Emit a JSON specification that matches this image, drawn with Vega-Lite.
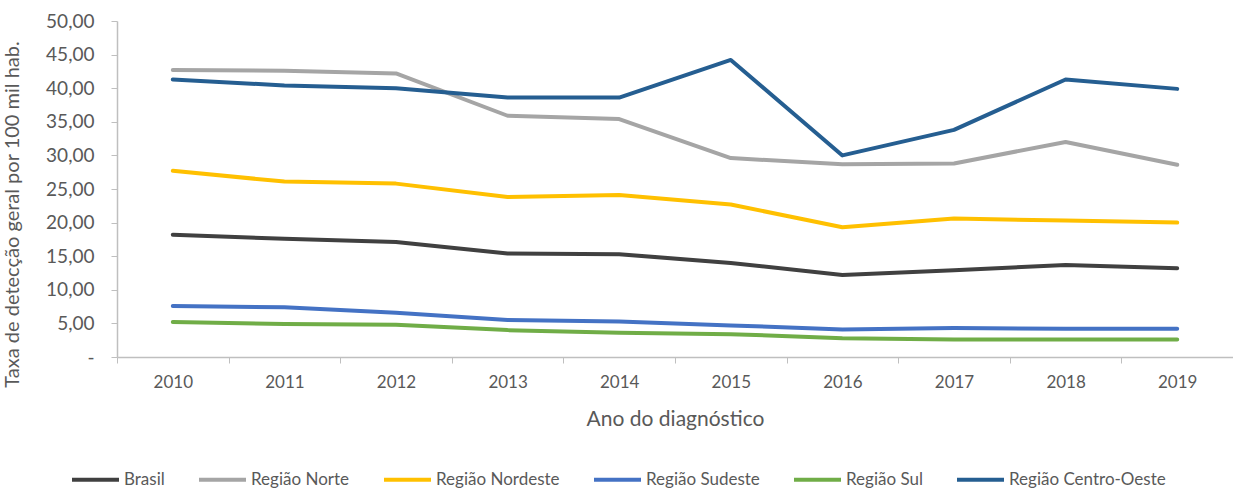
{
  "$schema": "https://vega.github.io/schema/vega-lite/v6.json",
  "width": 1116,
  "height": 336,
  "autosize": "none",
  "padding": {"left": 117, "top": 21, "right": 0, "bottom": 131},
  "background": "white",
  "config": {
    "view": {"stroke": null},
    "font": "Lato",
    "axis": {"labelColor": "#595959", "titleColor": "#595959", "domainColor": "#BFBFBF", "tickColor": "#BFBFBF", "labelFont": "Lato", "titleFont": "Lato", "titleFontWeight": "normal"}
  },
  "data": {
    "values": [
      {"ano": "2010", "serie": "Brasil", "taxa": 18.2},
      {"ano": "2011", "serie": "Brasil", "taxa": 17.6},
      {"ano": "2012", "serie": "Brasil", "taxa": 17.1},
      {"ano": "2013", "serie": "Brasil", "taxa": 15.4},
      {"ano": "2014", "serie": "Brasil", "taxa": 15.3},
      {"ano": "2015", "serie": "Brasil", "taxa": 14.0},
      {"ano": "2016", "serie": "Brasil", "taxa": 12.2},
      {"ano": "2017", "serie": "Brasil", "taxa": 12.9},
      {"ano": "2018", "serie": "Brasil", "taxa": 13.7},
      {"ano": "2019", "serie": "Brasil", "taxa": 13.2},
      {"ano": "2010", "serie": "Região Norte", "taxa": 42.7},
      {"ano": "2011", "serie": "Região Norte", "taxa": 42.6},
      {"ano": "2012", "serie": "Região Norte", "taxa": 42.2},
      {"ano": "2013", "serie": "Região Norte", "taxa": 35.9},
      {"ano": "2014", "serie": "Região Norte", "taxa": 35.4},
      {"ano": "2015", "serie": "Região Norte", "taxa": 29.6},
      {"ano": "2016", "serie": "Região Norte", "taxa": 28.7},
      {"ano": "2017", "serie": "Região Norte", "taxa": 28.8},
      {"ano": "2018", "serie": "Região Norte", "taxa": 32.0},
      {"ano": "2019", "serie": "Região Norte", "taxa": 28.6},
      {"ano": "2010", "serie": "Região Nordeste", "taxa": 27.7},
      {"ano": "2011", "serie": "Região Nordeste", "taxa": 26.1},
      {"ano": "2012", "serie": "Região Nordeste", "taxa": 25.8},
      {"ano": "2013", "serie": "Região Nordeste", "taxa": 23.8},
      {"ano": "2014", "serie": "Região Nordeste", "taxa": 24.1},
      {"ano": "2015", "serie": "Região Nordeste", "taxa": 22.7},
      {"ano": "2016", "serie": "Região Nordeste", "taxa": 19.3},
      {"ano": "2017", "serie": "Região Nordeste", "taxa": 20.6},
      {"ano": "2018", "serie": "Região Nordeste", "taxa": 20.3},
      {"ano": "2019", "serie": "Região Nordeste", "taxa": 20.0},
      {"ano": "2010", "serie": "Região Sudeste", "taxa": 7.6},
      {"ano": "2011", "serie": "Região Sudeste", "taxa": 7.4},
      {"ano": "2012", "serie": "Região Sudeste", "taxa": 6.6},
      {"ano": "2013", "serie": "Região Sudeste", "taxa": 5.5},
      {"ano": "2014", "serie": "Região Sudeste", "taxa": 5.3},
      {"ano": "2015", "serie": "Região Sudeste", "taxa": 4.7},
      {"ano": "2016", "serie": "Região Sudeste", "taxa": 4.1},
      {"ano": "2017", "serie": "Região Sudeste", "taxa": 4.3},
      {"ano": "2018", "serie": "Região Sudeste", "taxa": 4.2},
      {"ano": "2019", "serie": "Região Sudeste", "taxa": 4.2},
      {"ano": "2010", "serie": "Região Sul", "taxa": 5.2},
      {"ano": "2011", "serie": "Região Sul", "taxa": 4.9},
      {"ano": "2012", "serie": "Região Sul", "taxa": 4.8},
      {"ano": "2013", "serie": "Região Sul", "taxa": 4.0},
      {"ano": "2014", "serie": "Região Sul", "taxa": 3.6},
      {"ano": "2015", "serie": "Região Sul", "taxa": 3.4},
      {"ano": "2016", "serie": "Região Sul", "taxa": 2.8},
      {"ano": "2017", "serie": "Região Sul", "taxa": 2.6},
      {"ano": "2018", "serie": "Região Sul", "taxa": 2.6},
      {"ano": "2019", "serie": "Região Sul", "taxa": 2.6},
      {"ano": "2010", "serie": "Região Centro-Oeste", "taxa": 41.3},
      {"ano": "2011", "serie": "Região Centro-Oeste", "taxa": 40.4},
      {"ano": "2012", "serie": "Região Centro-Oeste", "taxa": 40.0},
      {"ano": "2013", "serie": "Região Centro-Oeste", "taxa": 38.6},
      {"ano": "2014", "serie": "Região Centro-Oeste", "taxa": 38.6},
      {"ano": "2015", "serie": "Região Centro-Oeste", "taxa": 44.2},
      {"ano": "2016", "serie": "Região Centro-Oeste", "taxa": 30.0},
      {"ano": "2017", "serie": "Região Centro-Oeste", "taxa": 33.8},
      {"ano": "2018", "serie": "Região Centro-Oeste", "taxa": 41.3},
      {"ano": "2019", "serie": "Região Centro-Oeste", "taxa": 39.9}
    ]
  },
  "mark": {"type": "line", "strokeWidth": 4, "strokeCap": "round", "strokeJoin": "round"},
  "encoding": {
    "x": {
      "field": "ano", "type": "ordinal", "bandPosition": 0.5,
      "scale": {"type": "band", "paddingInner": 0, "paddingOuter": 0},
      "axis": {"title": "Ano do diagnóstico", "labelAngle": 0, "labelFontSize": 17, "titleFontSize": 21, "tickBand": "extent", "tickSize": 6, "labelPadding": 11, "titlePadding": 18, "domainWidth": 1.5}
    },
    "y": {
      "field": "taxa", "type": "quantitative",
      "scale": {"domain": [0, 50], "nice": false},
      "axis": {"title": "Taxa de detecção geral por 100 mil hab.", "values": [0, 5, 10, 15, 20, 25, 30, 35, 40, 45, 50], "grid": false, "labelFontSize": 19, "titleFontSize": 20, "tickSize": 6, "labelPadding": 17, "domainWidth": 1.5,
        "labelExpr": "datum.value == 0 ? '-' : replace(format(datum.value, '.2f'), '.', ',')",
        "titleX": -95, "titleY": 193}
    },
    "color": {
      "field": "serie", "type": "nominal",
      "sort": ["Brasil", "Região Norte", "Região Nordeste", "Região Sudeste", "Região Sul", "Região Centro-Oeste"],
      "scale": {"domain": ["Brasil", "Região Norte", "Região Nordeste", "Região Sudeste", "Região Sul", "Região Centro-Oeste"], "range": ["#404040", "#A5A5A5", "#FFC000", "#4472C4", "#70AD47", "#255E91"]},
      "legend": {"title": null, "orient": "none", "direction": "horizontal", "legendX": -47, "legendY": 433, "symbolType": "stroke", "symbolSize": 2209, "symbolStrokeWidth": 4, "labelFontSize": 17, "labelColor": "#595959", "labelFont": "Lato", "columnPadding": 26, "labelOffset": 3, "symbolOffset": 0}
    }
  }
}
